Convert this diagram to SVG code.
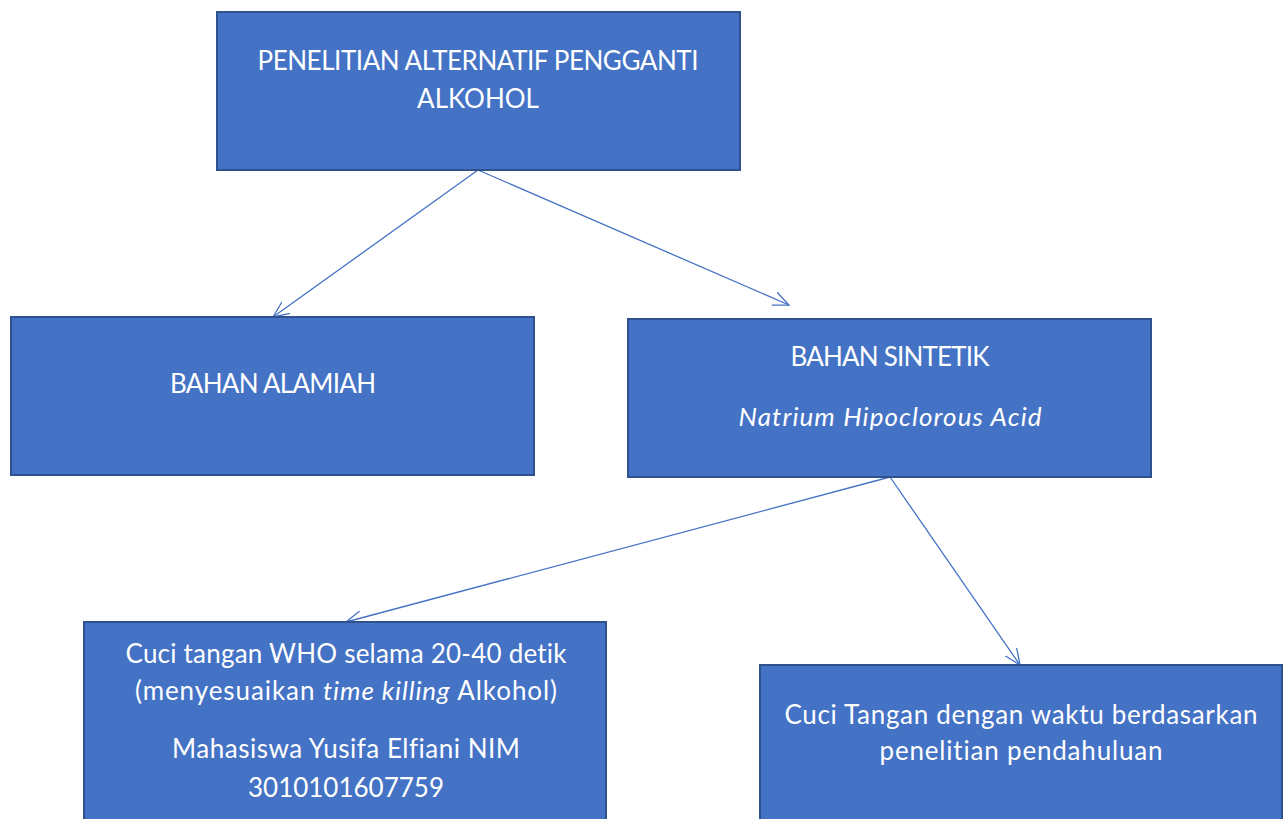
<svg xmlns="http://www.w3.org/2000/svg" width="1288" height="819" viewBox="0 0 1288 819">
<style>
.box{fill:#4472C4;stroke:#2F528F;stroke-width:2}
.t{fill:#fff;font-family:Lato,"Open Sans",sans-serif;font-size:26px;text-anchor:middle;font-variant-ligatures:none}
.i{font-style:italic}
.c{stroke:#4472C4;stroke-width:1.3;fill:none}
</style>
<defs>
<marker id="a" markerUnits="userSpaceOnUse" markerWidth="20" markerHeight="20" refX="16" refY="7" orient="auto" viewBox="0 0 20 14">
<path d="M0,0 L16,7 L0,14" fill="none" stroke="#4472C4" stroke-width="1.3"/>
</marker>
</defs>
<rect width="1288" height="819" fill="#fff"/>
<g id="connectors">
<line class="c" x1="478" y1="170" x2="273" y2="317" marker-end="url(#a)"/>
<line class="c" x1="478" y1="170" x2="789" y2="305" marker-end="url(#a)"/>
<line class="c" x1="890" y1="477" x2="346" y2="622" marker-end="url(#a)"/>
<line class="c" x1="890" y1="477" x2="1020" y2="665" marker-end="url(#a)"/>
</g>
<g id="n1">
<rect class="box" x="217" y="12" width="523" height="158"/>
<text class="t" x="478" y="70" textLength="441">PENELITIAN ALTERNATIF PENGGANTI</text>
<text class="t" x="478" y="108">ALKOHOL</text>
</g>
<g id="n2">
<rect class="box" x="11" y="317" width="523" height="158"/>
<text class="t" x="273" y="393" textLength="206">BAHAN ALAMIAH</text>
</g>
<g id="n3">
<rect class="box" x="628" y="319" width="523" height="158"/>
<text class="t" x="890" y="366" textLength="199">BAHAN SINTETIK</text>
<text class="t i" x="890" y="426" textLength="303">Natrium Hipoclorous Acid</text>
</g>
<g id="n4">
<rect class="box" x="84" y="622" width="522" height="210"/>
<text class="t" x="346" y="663" textLength="441">Cuci tangan WHO selama 20-40 detik</text>
<text class="t" x="346" y="700" textLength="422">(menyesuaikan <tspan class="i">time killing</tspan> Alkohol)</text>
<text class="t" x="346" y="758" textLength="348">Mahasiswa Yusifa Elfiani NIM</text>
<text class="t" x="346" y="797">3010101607759</text>
</g>
<g id="n5">
<rect class="box" x="760" y="665" width="522" height="170"/>
<text class="t" x="1021" y="724" textLength="473">Cuci Tangan dengan waktu berdasarkan</text>
<text class="t" x="1021" y="760" textLength="283">penelitian pendahuluan</text>
</g>
</svg>
